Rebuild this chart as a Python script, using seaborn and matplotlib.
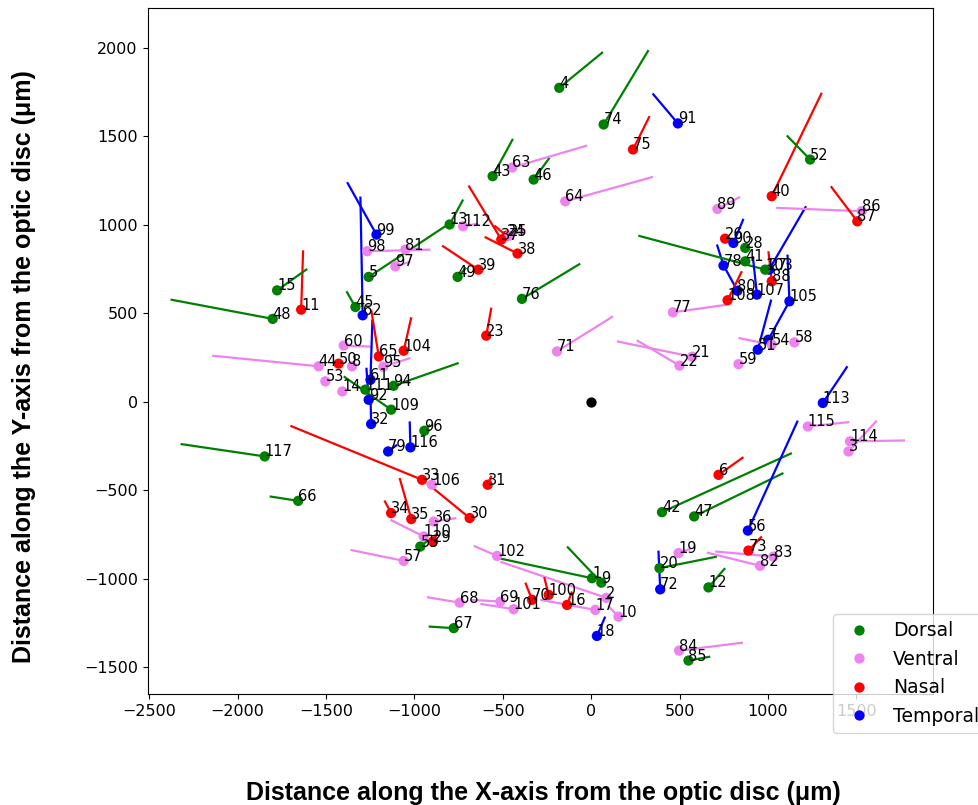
import matplotlib
matplotlib.use("Agg")
import matplotlib.pyplot as plt
from matplotlib.collections import LineCollection
import pandas as pd
import seaborn as sns

# Cell identifiers, retinal region, soma position and end of the direction vector (µm)
ids = [1, 2, 3, 4, 5, 6, 7, 8, 9, 10,
       11, 12, 13, 14, 15, 16, 17, 18, 19, 20,
       21, 22, 23, 24, 25, 26, 27, 28, 29, 30,
       31, 32, 33, 34, 35, 36, 37, 38, 39, 40,
       41, 42, 43, 44, 45, 46, 47, 48, 49, 50,
       51, 52, 53, 54, 55, 56, 57, 58, 59, 60,
       61, 62, 63, 64, 65, 66, 67, 68, 69, 70,
       71, 72, 73, 74, 75, 76, 77, 78, 79, 80,
       81, 82, 83, 84, 85, 86, 87, 88, 89, 90,
       91, 92, 94, 95, 96, 97, 98, 99, 100, 101,
       102, 103, 104, 105, 106, 107, 108, 109, 110, 111,
       112, 113, 114, 115, 116, 117]

regions = ["Dorsal", "Ventral", "Ventral", "Dorsal", "Dorsal", "Nasal", "Temporal", "Ventral", "Dorsal", "Ventral",
           "Nasal", "Dorsal", "Dorsal", "Ventral", "Dorsal", "Nasal", "Ventral", "Temporal", "Ventral", "Dorsal",
           "Ventral", "Ventral", "Nasal", "Nasal", "Ventral", "Nasal", "Temporal", "Dorsal", "Nasal", "Nasal",
           "Nasal", "Temporal", "Nasal", "Nasal", "Nasal", "Ventral", "Nasal", "Nasal", "Nasal", "Nasal",
           "Dorsal", "Dorsal", "Dorsal", "Ventral", "Dorsal", "Dorsal", "Dorsal", "Dorsal", "Dorsal", "Nasal",
           "Temporal", "Dorsal", "Ventral", "Ventral", "Dorsal", "Temporal", "Ventral", "Ventral", "Ventral", "Ventral",
           "Temporal", "Temporal", "Ventral", "Ventral", "Nasal", "Dorsal", "Dorsal", "Ventral", "Ventral", "Nasal",
           "Ventral", "Temporal", "Nasal", "Dorsal", "Nasal", "Dorsal", "Ventral", "Temporal", "Temporal", "Temporal",
           "Ventral", "Ventral", "Ventral", "Ventral", "Dorsal", "Ventral", "Nasal", "Nasal", "Ventral", "Temporal",
           "Temporal", "Temporal", "Dorsal", "Ventral", "Dorsal", "Ventral", "Ventral", "Temporal", "Nasal", "Ventral",
           "Ventral", "Dorsal", "Nasal", "Temporal", "Ventral", "Temporal", "Nasal", "Dorsal", "Ventral", "Dorsal",
           "Ventral", "Temporal", "Ventral", "Ventral", "Temporal", "Dorsal"]

pos_x = [4, 85, 1455, -181, -1259, 720, 1001, -1353, 57, 154,
         -1641, 663, -801, -1408, -1777, -137, 23, 32, 494, 386,
         571, 499, -594, -480, -464, 757, 1006, 871, -895, -688,
         -586, -1245, -957, -1132, -1018, -891, -509, -417, -639, 1021,
         871, 400, -558, -1542, -1334, -326, 582, -1802, -756, -1429,
         942, 1238, -1504, 1021, -967, 886, -1061, 1149, 833, -1400,
         -1249, -1293, -447, -147, -1202, -1658, -778, -744, -514, -335,
         -194, 390, 889, 70, 236, -392, 462, 748, -1149, 827,
         -1051, 955, 1031, 497, 550, 1530, 1505, 1021, 714, 804,
         490, -1259, -1118, -1176, -944, -1108, -1268, -1215, -241, -439,
         -533, 984, -1061, 1121, -901, 937, 771, -1132, -948, -1278,
         -725, 1310, 1464, 1225, -1023, -1847]

pos_y = [-997, -1108, -281, 1773, 705, -413, 350, 200, -1022, -1214,
         520, -1049, 1001, 58, 629, -1148, -1176, -1323, -855, -940,
         254, 204, 373, 938, 938, 921, 746, 869, -790, -657,
         -469, -126, -441, -629, -663, -677, 916, 837, 746, 1161,
         793, -624, 1274, 200, 535, 1255, -648, 468, 705, 215,
         294, 1368, 115, 322, -818, -728, -899, 335, 212, 317,
         124, 488, 1323, 1132, 256, -560, -1279, -1135, -1129, -1119,
         284, -1060, -841, 1566, 1425, 581, 505, 769, -281, 627,
         859, -927, -875, -1406, -1462, 1076, 1019, 680, 1089, 897,
         1572, 11, 90, 198, -164, 765, 850, 944, -1091, -1172,
         -871, 746, 288, 567, -469, 605, 573, -45, -761, 68,
         991, -7, -224, -140, -258, -309]

end_x = [-524, -514, 1615, 66, -820, 861, 1121, -1353, -137, 96,
         -1630, 757, -725, -1408, -1607, -109, -288, 79, 560, 711,
         145, 258, -565, -548, -373, 757, 1215, 871, -871, -929,
         -565, -1249, -1702, -1170, -1084, -763, -694, -603, -844, 1304,
         871, 1135, -443, -2144, -1385, -236, 1087, -2380, -707, -1429,
         1018, 1106, -1504, 833, -921, 1168, -1362, 1149, 833, -1238,
         -1238, -1306, -23, 349, -1245, -1819, -920, -929, -684, -373,
         123, 380, 965, 324, 330, -62, 767, 711, -1098, 752,
         -978, 654, 701, 858, 673, 1046, 1355, 1002, 842, 861,
         347, -1272, -750, -1023, -910, -1023, -910, -1381, -266, -627,
         -665, 266, -1018, 1110, -901, 914, 852, -1400, -1136, -1278,
         -639, 1449, 1775, 1460, -1027, -2323]

end_y = [-884, -904, -107, 1975, 995, -313, 567, 200, -818, -1153,
         855, -940, 1142, 58, 750, -1072, -1119, -1214, -831, -875,
         341, 347, 531, 995, 972, 921, 1104, 869, -741, -460,
         -418, 40, -136, -558, -431, -657, 1221, 931, 882, 1745,
         793, -290, 1485, 260, 624, 1378, -403, 577, 757, 215,
         577, 1504, 115, 360, -780, -107, -837, 335, 212, 311,
         464, 1159, 1447, 1270, 520, -535, -1270, -1104, -1119, -1022,
         482, -841, -761, 1986, 1613, 780, 548, 888, -243, 763,
         865, -852, -846, -1361, -1440, 1095, 1217, 850, 1157, 1033,
         1741, 192, 219, 247, -130, 791, 859, 1240, -991, -1142,
         -814, 938, 477, 831, -469, 821, 737, 143, -667, 68,
         1006, 200, -219, -115, -111, -239]

region_order = ["Dorsal", "Ventral", "Nasal", "Temporal"]
region_colors = {"Dorsal": "green", "Ventral": "violet", "Nasal": "red", "Temporal": "blue"}

cells = pd.DataFrame({"cell": ids, "region": regions, "x": pos_x, "y": pos_y,
                      "x_end": end_x, "y_end": end_y})

fig = plt.figure(figsize=(9.79, 8.05), dpi=100)
ax = fig.add_axes([0.1507, 0.1379, 0.8023, 0.8524])

# direction vectors, one segment per cell
segments = [[(r.x, r.y), (r.x_end, r.y_end)] for r in cells.itertuples()]
seg_colors = [region_colors[r] for r in cells["region"]]
ax.add_collection(LineCollection(segments, colors=seg_colors, linewidths=1.6, zorder=1))

sns.scatterplot(data=cells, x="x", y="y", hue="region", hue_order=region_order,
                palette=region_colors, s=55, linewidth=0, zorder=2, ax=ax)

# optic disc at the origin
sns.scatterplot(x=[0], y=[0], color="black", s=55, linewidth=0, zorder=3,
                legend=False, ax=ax)

for r in cells.itertuples():
    ax.text(r.x, r.y, str(r.cell), fontsize=10.5, color="black", zorder=4)

ax.set_xlim(-2510, 1933)
ax.set_ylim(-1651, 2225)
ax.set_xticks(list(range(-2500, 1501, 500)))
ax.set_yticks(list(range(-1500, 2001, 500)))
ax.tick_params(labelsize=11.5)

label_font = dict(fontsize=18, fontweight="bold", family=["Liberation Sans", "DejaVu Sans"])
ax.set_xlabel("Distance along the X-axis from the optic disc (μm)", **label_font)
ax.set_ylabel("Distance along the Y-axis from the optic disc (μm)", **label_font)
ax.xaxis.set_label_coords(0.5035, -0.127)
ax.yaxis.set_label_coords(-0.142, 0.477)

sns.move_legend(ax, "upper left", bbox_to_anchor=(0.8727, 0.1166),
                borderaxespad=0, title=None, fontsize=13.5, frameon=True)

fig.savefig("out.png", dpi=100)
